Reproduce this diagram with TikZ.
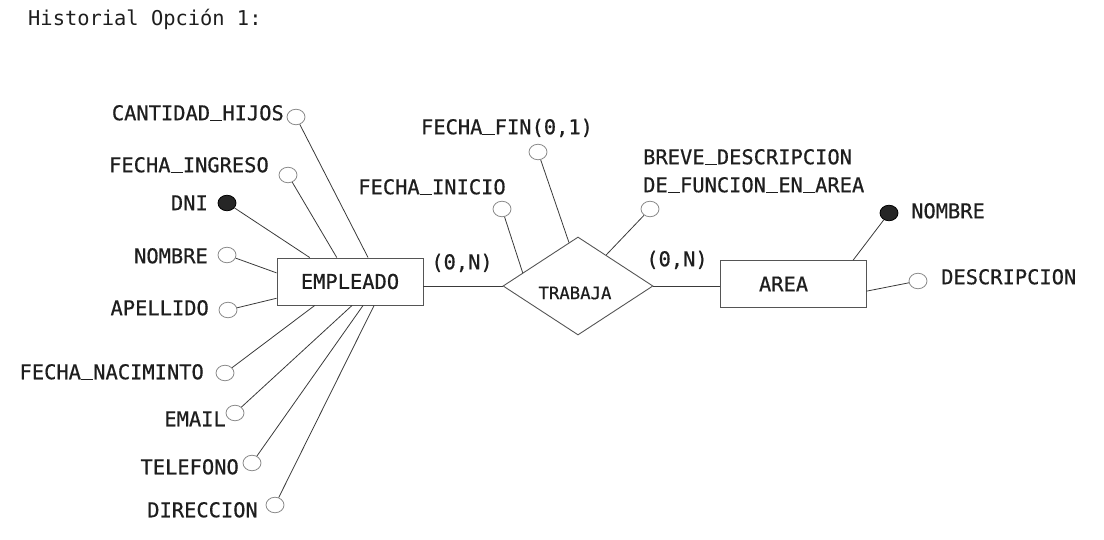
\documentclass[tikz,border=0pt]{standalone}
\usepackage{fontspec}
\newfontfamily\monof[FakeBold=0.6]{DejaVu Sans Mono}
\newfontfamily\titlef{DejaVu Sans Mono}
\newcommand\us{\rule[-1pt]{0.602em}{1.4pt}}
\usetikzlibrary{shapes.geometric,calc}
\definecolor{ln}{HTML}{3A3A3A}
\definecolor{cg}{HTML}{8A8A8A}
\definecolor{bx}{HTML}{555555}
\definecolor{tx}{HTML}{1E1E1E}
\begin{document}
\begin{tikzpicture}[x=1pt,y=-1pt,
  lbl/.style={font=\monof\fontsize{20.4}{22}\selectfont, text=tx, inner sep=0pt, text height=14.5pt, text depth=0pt},
  ent/.style={draw=bx, line width=0.9pt, minimum width=146pt, minimum height=47pt, inner sep=0pt, font=\monof\fontsize{20.4}{22}\selectfont, text=tx},
  rel/.style={draw=bx, line width=0.9pt, diamond, minimum width=150pt, minimum height=98pt, inner sep=0pt},
  att/.style={ellipse, draw=cg, line width=0.8pt, fill=white, minimum width=18pt, minimum height=15.5pt, inner sep=0pt},
  key/.style={ellipse, draw=black, line width=0.8pt, fill=black!85, minimum width=18pt, minimum height=15.5pt, inner sep=0pt},
  con/.style={draw=ln, line width=0.8pt}]
\path[use as bounding box] (0,0) rectangle (1104,540);
\node[anchor=west, font=\titlef\fontsize{20.4}{22}\selectfont, text=tx, inner sep=0pt] (title) at (28,19) {Historial Opción 1:};

% entities and relation
\node[ent] (emp) at (350,281.5) {EMPLEADO};
\node[ent, text width=120pt, align=left] (area) at (793,284) {\hspace*{26pt}AREA};
\node[rel] (tr) at (578,286) {};
\node[font=\monof\fontsize{17.3}{19}\selectfont, text=tx, inner sep=0pt] (trl) at (575,293) {TRABAJA};

\draw[con] (emp.east |- tr.west) -- (tr.west);
\draw[con] (tr.east) -- (area.west |- tr.east);
\node[lbl] (c1) at (462,262) {(0,N)};
\node[lbl] (c2) at (677,259) {(0,N)};

% EMPLEADO attributes
\node[att] (a1) at (296,117) {};
\node[lbl, anchor=east] (l1) at (284,113) {CANTIDAD\us HIJOS};
\draw[con] (a1) -- ($(emp.north west)!0.623!(emp.north east)$);

\node[att] (a2) at (288,175) {};
\node[lbl, anchor=east] (l2) at (269,165) {FECHA\us INGRESO};
\draw[con] (a2) -- ($(emp.north west)!0.41!(emp.north east)$);

\node[key] (a3) at (227,203) {};
\node[lbl, anchor=east] (l3) at (208,203) {DNI};
\draw[con] (a3) -- ($(emp.north west)!0.226!(emp.north east)$);

\node[att] (a4) at (227,255) {};
\node[lbl, anchor=east] (l4) at (208,256) {NOMBRE};
\draw[con] (a4) -- ($(emp.north west)!0.32!(emp.south west)$);

\node[att] (a5) at (228,310) {};
\node[lbl, anchor=east] (l5) at (209,308) {APELLIDO};
\draw[con] (a5) -- ($(emp.north west)!0.85!(emp.south west)$);

\node[att] (a6) at (225,373) {};
\node[lbl, anchor=east] (l6) at (204,372) {FECHA\us NACIMINTO};
\draw[con] (a6) -- ($(emp.south west)!0.26!(emp.south east)$);

\node[att] (a7) at (235,413) {};
\node[lbl, anchor=east] (l7) at (226,419) {EMAIL};
\draw[con] (a7) -- ($(emp.south west)!0.514!(emp.south east)$);

\node[att] (a8) at (252,463) {};
\node[lbl, anchor=east] (l8) at (239,467) {TELEFONO};
\draw[con] (a8) -- ($(emp.south west)!0.589!(emp.south east)$);

\node[att] (a9) at (275,505) {};
\node[lbl, anchor=east] (l9) at (258,510) {DIRECCION};
\draw[con] (a9) -- ($(emp.south west)!0.664!(emp.south east)$);

% relation attributes
\node[att] (r1) at (502,209) {};
\node[lbl] (m1) at (432,187) {FECHA\us INICIO};
\draw[con] (r1) -- ($(tr.west)!0.267!(tr.north)$);

\node[att] (r2) at (538,152) {};
\node[lbl] (m2) at (507,127) {FECHA\us FIN(0,1)};
\draw[con] (r2) -- ($(tr.west)!0.88!(tr.north)$);

\node[att] (r3) at (650,209) {};
\node[lbl, anchor=west] (m3a) at (643,157) {BREVE\us DESCRIPCION};
\node[lbl, anchor=west] (m3b) at (643,185) {DE\us FUNCION\us EN\us AREA};
\draw[con] (r3) -- ($(tr.north)!0.373!(tr.east)$);

% AREA attributes
\node[key] (b1) at (889,213) {};
\node[lbl, anchor=west] (n1) at (911,211) {NOMBRE};
\draw[con] (b1) -- ($(area.north west)!0.91!(area.north east)$);

\node[att] (b2) at (918,281) {};
\node[lbl, anchor=west] (n2) at (941,277) {DESCRIPCION};
\draw[con] (b2) -- ($(area.north east)!0.65!(area.south east)$);
\end{tikzpicture}
\end{document}
